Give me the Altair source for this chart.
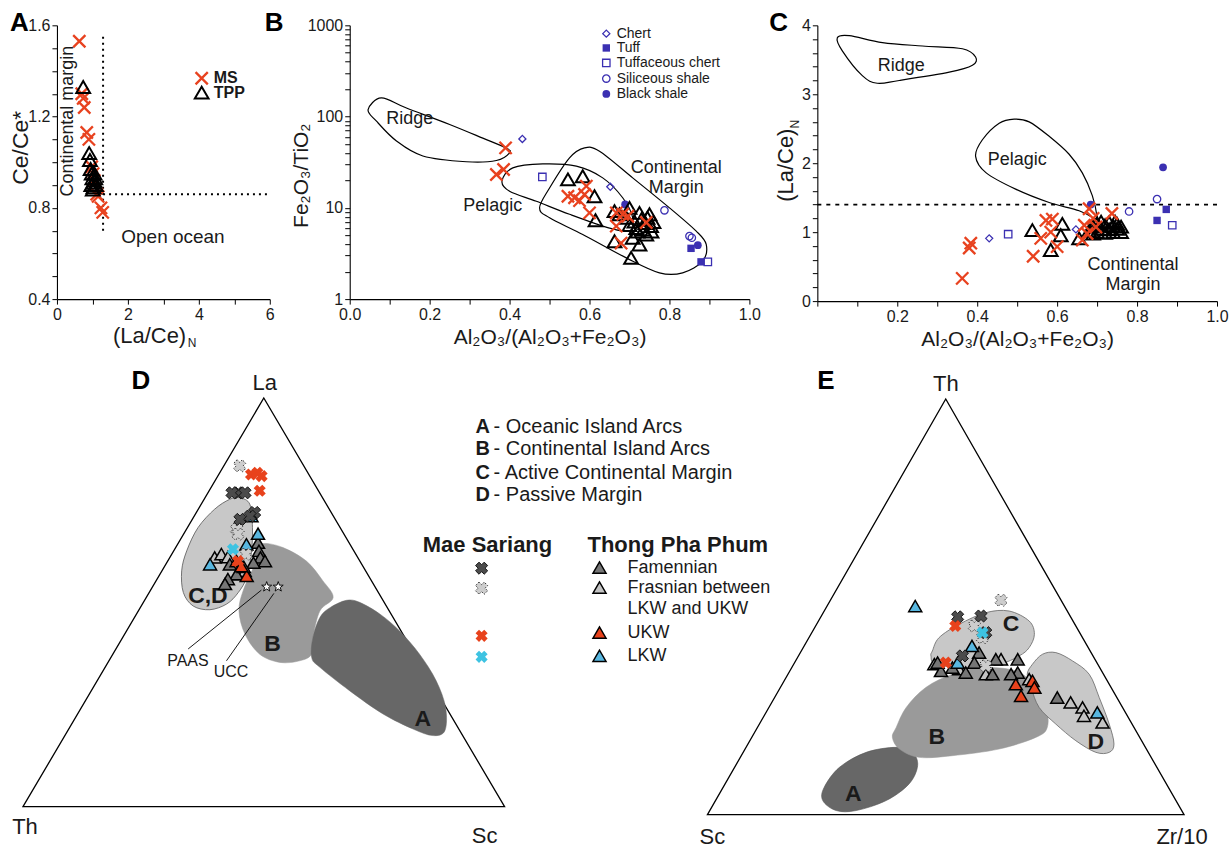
import altair as alt
import pandas as pd

FONT = "Liberation Sans"
INK = "#1a1a1a"
RED = "#e8421f"
PURPLE = "#3b30b2"
XPATH = "M-1,-1L1,1M-1,1L1,-1"
STARPATH = ("M0,-1L0.235,-0.324L0.951,-0.309L0.380,0.124L0.588,0.809L0,0.4L-0.588,0.809"
            "L-0.380,0.124L-0.951,-0.309L-0.235,-0.324Z")

# ------------------------------------------------------------------ data
# Panel A : x = (La/Ce)N , y = Ce/Ce*
A_MS_X = [0.63, 0.70, 0.74, 0.77, 0.84, 0.90, 0.98, 1.02, 1.05, 1.12, 1.16, 1.24, 1.29]
A_MS_Y = [1.53, 1.30, 1.28, 1.24, 1.13, 1.10, 0.98, 0.95, 0.92, 0.86, 0.85, 0.80, 0.78]
A_TPP_X = [0.74, 0.91, 0.93, 0.95, 0.98, 1.00, 1.02, 1.03, 1.05, 1.06, 1.08, 1.10, 0.97, 1.01]
A_TPP_Y = [1.33, 1.04, 1.01, 0.97, 0.95, 0.93, 0.91, 0.89, 0.92, 0.95, 0.93, 0.90, 0.90, 0.88]
A_BOUND_X = 1.3      # (La/Ce)N boundary
A_BOUND_Y = 0.86     # Ce/Ce* boundary
A_VLINE_Y = [0.70, 1.565]
A_HLINE_X = [1.3, 6.0]

# Panel B : x = Al2O3/(Al2O3+Fe2O3) , y = Fe2O3/TiO2 (log)
B_MS_X = [0.39, 0.385, 0.367, 0.546, 0.5625, 0.575, 0.5875, 0.592, 0.60, 0.667, 0.683, 0.696, 0.667, 0.742, 0.679]
B_MS_Y = [45.4, 26.3, 23.2, 13.4, 12.9, 12.0, 14.0, 17.3, 8.8, 8.8, 8.5, 8.1, 6.3, 6.9, 4.1]
B_TPP_X = [0.546, 0.583, 0.6125, 0.615, 0.6625, 0.6625, 0.704, 0.725, 0.70, 0.692, 0.7125, 0.675, 0.725,
           0.75, 0.754, 0.742, 0.717, 0.708, 0.73, 0.74, 0.76, 0.72, 0.735, 0.70, 0.745, 0.755]
B_TPP_Y = [20.5, 22.2, 13.4, 7.3, 9.2, 4.3, 2.83, 3.97, 10.0, 7.8, 7.1, 8.5, 8.8,
           8.5, 6.3, 5.1, 6.0, 4.7, 7.5, 6.8, 7.0, 5.5, 5.8, 6.5, 7.8, 5.5]
B_CHERT_X, B_CHERT_Y = [0.432, 0.652], [56.9, 17.0]
B_TUFF_X, B_TUFF_Y = [0.854, 0.879], [3.6, 2.56]
B_TCHERT_X, B_TCHERT_Y = [0.482, 0.896], [21.8, 2.56]
B_SSHALE_X, B_SSHALE_Y = [0.7875, 0.85, 0.856], [9.4, 4.9, 4.7]
B_BSHALE_X, B_BSHALE_Y = [0.689, 0.871], [10.9, 3.9]
B_RIDGE_X = [0.046, 0.079, 0.142, 0.25, 0.333, 0.392, 0.40, 0.367, 0.292, 0.183, 0.117, 0.067]
B_RIDGE_Y = [119, 160, 124, 82, 58, 45, 40, 33, 32, 37, 54, 89]
B_PEL_X = [0.381, 0.408, 0.483, 0.567, 0.633, 0.683, 0.708, 0.70, 0.65, 0.55, 0.467, 0.40]
B_PEL_Y = [19.6, 27.4, 30.3, 28.6, 21.3, 12.9, 7.8, 5.6, 6.0, 8.5, 11.8, 15.2]
B_CM_X = [0.475, 0.50, 0.55, 0.5875, 0.625, 0.708, 0.80, 0.867, 0.892, 0.883, 0.833, 0.775, 0.692, 0.583, 0.50]
B_CM_Y = [10.0, 16.5, 35.3, 45.4, 41.7, 21.3, 10.0, 5.55, 3.97, 2.61, 1.94, 1.94, 2.83, 5.11, 7.77]

# Panel C : x = Al2O3/(Al2O3+Fe2O3) , y = (La/Ce)N
C_MS_X = [0.3625, 0.384, 0.38, 0.54, 0.572, 0.588, 0.584, 0.559, 0.60, 0.663, 0.668, 0.68, 0.697, 0.737, 0.69, 0.675]
C_MS_Y = [0.33, 0.84, 0.77, 0.65, 1.17, 1.19, 1.00, 0.91, 0.79, 0.885, 1.10, 1.34, 1.075, 1.27, 1.20, 0.98]
C_TPP_X = [0.538, 0.613, 0.609, 0.584, 0.655, 0.68, 0.69, 0.70, 0.70, 0.71, 0.72, 0.72, 0.73, 0.73,
           0.74, 0.74, 0.75, 0.75, 0.76, 0.76, 0.71, 0.69, 0.745]
C_TPP_Y = [1.03, 1.12, 0.956, 0.74, 0.91, 1.02, 1.08, 1.00, 1.13, 1.05, 1.10, 0.99, 1.04, 1.14,
           1.00, 1.09, 1.05, 1.12, 1.00, 1.08, 1.15, 0.98, 1.15]
C_CHERT_X, C_CHERT_Y = [0.43, 0.647], [0.91, 1.04]
C_TUFF_X, C_TUFF_Y = [0.85, 0.873], [1.17, 1.33]
C_TCHERT_X, C_TCHERT_Y = [0.4775, 0.888], [0.97, 1.10]
C_SSHALE_X, C_SSHALE_Y = [0.78, 0.85], [1.30, 1.48]
C_BSHALE_X, C_BSHALE_Y = [0.865, 0.684], [1.94, 1.40]
C_BOUND_Y = 1.4
C_RIDGE_X = [0.05, 0.08, 0.163, 0.263, 0.363, 0.396, 0.388, 0.33, 0.205, 0.15, 0.1125, 0.0625]
C_RIDGE_Y = [3.82, 3.85, 3.75, 3.70, 3.66, 3.54, 3.42, 3.32, 3.20, 3.16, 3.27, 3.63]
C_PEL_X = [0.4925, 0.53, 0.58, 0.63, 0.663, 0.688, 0.70, 0.696, 0.655, 0.58, 0.4975, 0.4225, 0.396, 0.413, 0.455]
C_PEL_Y = [2.64, 2.60, 2.39, 2.13, 1.86, 1.53, 1.22, 1.19, 1.31, 1.43, 1.62, 1.86, 2.10, 2.34, 2.58]

# Panel D : La-Th-Sc ternary, pairs are (La %, Sc %), Th = remainder
D_MS_DARK = [(76.8, 6.3), (76.8, 7.7), (76.8, 5.0), (72.0, 12.1), (71.1, 11.6), (70.3, 9.9)]
D_MS_LIGHT = [(83.4, 3.3), (67.9, 10.4), (66.7, 11.3), (61.8, 15.4)]
D_MS_RED = [(81.3, 6.7), (81.7, 7.8), (80.9, 9.1), (77.3, 10.5), (60.1, 14.6)]
D_MS_CYAN = [(63.0, 12.1)]
D_FAM = [(64.6, 16.5), (62.6, 17.7), (61.0, 18.8), (60.1, 20.2), (59.3, 13.3), (56.9, 15.9),
         (55.7, 14.7), (54.5, 14.7), (59.7, 18.0), (58.7, 16.5)]
D_FRAS = [(61.0, 9.3), (61.8, 10.3), (61.1, 12.0), (56.9, 16.6), (57.7, 17.2)]
D_UKW = [(56.5, 18.2), (60.1, 14.3), (58.9, 15.9)]
D_LKW = [(71.1, 11.9), (66.8, 15.4), (64.2, 14.3), (59.3, 9.2)]
D_PAAS = (53.8, 23.7)
D_UCC = (53.8, 26.1)
D_REGION_CD = [(75.6, 7.2), (74.0, 10.1), (68.3, 13.5), (61.8, 16.5), (56.1, 18.4), (52.4, 18.5), (49.6, 17.5),
               (48.2, 14.7), (49.1, 10.8), (52.4, 7.1), (57.7, 4.1), (62.6, 2.7), (68.3, 2.2), (72.8, 3.4), (75.2, 5.3)]
D_REGION_B = [(64.4, 17.7), (63.4, 22.3), (60.1, 28.8), (55.3, 34.6), (51.2, 38.8), (47.9, 37.7), (41.4, 39.5),
              (37.3, 41.3), (35.7, 39.6), (35.3, 35.7), (37.3, 30.5), (42.2, 25.0), (47.9, 20.9), (52.8, 19.3),
              (58.5, 18.6), (62.6, 17.9)]
D_REGION_A = [(48.7, 39.4), (50.5, 41.9), (50.0, 44.9), (47.1, 50.6), (43.0, 56.7), (37.3, 63.7), (30.8, 70.4),
              (24.3, 75.6), (18.6, 78.3), (17.4, 76.4), (19.0, 71.5), (22.7, 63.4), (28.4, 53.6), (34.1, 44.6),
              (36.5, 41.7), (41.4, 39.5), (46.3, 38.5)]

# Panel E : Th-Sc-Zr/10 ternary, pairs are (Th %, Zr/10 %), Sc = remainder
E_MS_DARK = [(47.6, 28.7), (47.8, 33.5), (38.2, 34.4), (43.8, 36.5)]
E_MS_LIGHT = [(51.6, 35.8), (45.4, 33.3), (42.6, 36.4), (35.8, 40.5)]
E_MS_RED = [(45.4, 29.3), (36.6, 31.7)]
E_MS_CYAN = [(43.8, 35.8)]
E_FAM = [(39.0, 37.5), (37.4, 41.8), (37.4, 46.4), (34.2, 48.0), (34.2, 37.1), (34.6, 31.7), (33.8, 42.9),
         (36.6, 37.7), (35.4, 33.7), (33.8, 46.8), (28.2, 59.3), (36.6, 30.0)]
E_FRAS = [(36.2, 29.5), (37.4, 42.9), (33.8, 41.5), (32.6, 51.2), (27.0, 62.7), (25.8, 65.8), (23.8, 67.1),
          (22.2, 71.8), (35.0, 35.3)]
E_UKW = [(31.4, 49.0), (28.6, 51.5), (32.2, 52.1), (30.6, 53.3)]
E_LKW = [(50.2, 18.5), (40.6, 35.2), (24.6, 69.5), (36.6, 34.2)]
E_REGION_C = [(39.4, 27.5), (42.6, 27.3), (45.8, 29.9), (48.6, 34.1), (49.0, 38.8), (46.6, 44.2), (43.4, 46.9),
              (40.2, 47.4), (38.2, 46.3), (36.2, 43.1), (35.4, 36.5), (36.2, 29.8), (38.2, 27.8)]
E_REGION_B = [(21.0, 29.1), (25.8, 28.8), (30.6, 30.5), (33.8, 34.5), (35.4, 40.0), (34.6, 47.4), (31.4, 52.5),
              (25.8, 58.1), (21.0, 60.8), (18.6, 59.6), (15.8, 53.3), (14.2, 44.3), (13.8, 37.5), (15.8, 32.4),
              (18.6, 29.5)]
E_REGION_A = [(6.6, 21.2), (11.4, 22.0), (15.0, 25.8), (16.2, 31.5), (15.0, 35.5), (11.8, 38.2), (7.4, 38.6),
              (3.4, 35.8), (1.0, 30.7), (1.0, 26.5), (3.4, 22.5)]
E_REGION_D = [(36.2, 50.1), (38.6, 51.0), (39.0, 53.6), (37.0, 58.1), (33.8, 63.2), (28.2, 68.1), (21.8, 73.4),
              (17.0, 76.8), (15.0, 76.8), (15.0, 74.0), (17.8, 68.4), (21.8, 62.2), (25.8, 56.7), (30.6, 52.6),
              (33.8, 50.2)]

# ------------------------------------------------------------------ styles
FAM, FRAS, UKW, LKW = "#767676", "#c3c3c3", "#e8421c", "#58b7e0"
MS_DARK, MS_LIGHT, MS_RED, MS_CYAN = "#4b4b4b", "#cdcdcd", "#e8421c", "#3ec3e2"
PURPLE_STYLE = {
    "chert": dict(shape="diamond", filled=False, size=50, strokeWidth=1.3),
    "tuff": dict(shape="square", filled=True, size=55, strokeWidth=0),
    "tchert": dict(shape="square", filled=False, size=55, strokeWidth=1.3),
    "sshale": dict(shape="circle", filled=False, size=55, strokeWidth=1.3),
    "bshale": dict(shape="circle", filled=True, size=60, strokeWidth=0),
}


def xy(xs, ys):
    return pd.DataFrame({"x": xs, "y": ys})


def one(t="x"):
    return pd.DataFrame({"t": [t]})


def ms_layer(df, x, y):
    return alt.Chart(df).mark_point(shape=XPATH, filled=False, color=RED, size=150,
                                    strokeWidth=2.3, opacity=1).encode(x=x, y=y)


def tpp_layer(df, x, y):
    return alt.Chart(df).mark_point(shape="triangle-up", filled=False, color="black", size=190,
                                    strokeWidth=2, opacity=1).encode(x=x, y=y)


def purple_layer(df, kind, x, y):
    return alt.Chart(df).mark_point(color=PURPLE, opacity=1, **PURPLE_STYLE[kind]).encode(x=x, y=y)


def text_layer(df, x, y, **mk):
    base = dict(font=FONT, color=INK)
    base.update(mk)
    return alt.Chart(df).mark_text(**base).encode(x=x, y=y, text="t:N")


def hull_layer(xs, ys, x, y):
    df = pd.DataFrame({"x": xs, "y": ys, "i": list(range(len(xs)))})
    return alt.Chart(df).mark_line(interpolate="cardinal-closed", color="black",
                                   strokeWidth=1.2).encode(x=x, y=y, order="i:Q")


def panel_label(letter, dx):
    return alt.Chart(one(letter)).mark_text(font=FONT, fontSize=26, fontWeight="bold", color="black",
                                            align="left", baseline="alphabetic").encode(
        x=alt.value(dx), y=alt.value(6), text="t:N")


# ------------------------------------------------------------------ panel A
A_YT = [0.4, 0.5, 0.6, 0.7, 0.8, 0.9, 1.0, 1.1, 1.2, 1.3, 1.4, 1.5, 1.6]
xA = alt.X("x:Q", scale=alt.Scale(domain=[0, 6], range=[0, 213], nice=False, zero=False),
           axis=alt.Axis(values=[0, 1, 2, 3, 4, 5, 6], format="d",
                         labelExpr="datum.value % 2 == 0 ? datum.label : ''", title=None))
yA = alt.Y("y:Q", scale=alt.Scale(domain=[0.4, 1.6], nice=False, zero=False),
           axis=alt.Axis(values=A_YT, format=".1f",
                         labelExpr="round(datum.value * 10) % 4 == 0 ? datum.label : ''",
                         title="Ce/Ce*", titleX=-36, titleY=122, titleAngle=270,
                         titleAlign="center", titleBaseline="middle", titleFontSize=23))

dotted = dict(color="black", strokeWidth=2, strokeDash=[2, 4])
chartA = alt.layer(
    alt.Chart(pd.DataFrame({"x": [A_BOUND_X], "y": [A_VLINE_Y[0]], "y2": [A_VLINE_Y[1]]}))
    .mark_rule(**dotted).encode(x=xA, y=yA, y2="y2:Q"),
    alt.Chart(pd.DataFrame({"x": [A_HLINE_X[0]], "x2": [A_HLINE_X[1]], "y": [A_BOUND_Y]}))
    .mark_rule(**dotted).encode(x=xA, x2="x2:Q", y=yA),
    ms_layer(xy(A_MS_X, A_MS_Y), xA, yA),
    tpp_layer(xy(A_TPP_X, A_TPP_Y), xA, yA),
    text_layer(pd.DataFrame({"x": [0.31], "y": [1.18], "t": ["Continental margin"]}), xA, yA,
               fontSize=18, angle=270, align="center", baseline="middle"),
    text_layer(pd.DataFrame({"x": [3.27], "y": [0.67], "t": ["Open ocean"]}), xA, yA,
               fontSize=19, align="center", baseline="middle"),
    ms_layer(xy([4.08], [1.368]), xA, yA),
    tpp_layer(xy([4.08], [1.305]), xA, yA),
    text_layer(pd.DataFrame({"x": [4.42, 4.42], "y": [1.370, 1.303], "t": ["MS", "TPP"]}), xA, yA,
               fontSize=16, fontWeight="bold", align="left", baseline="middle"),
    alt.Chart(one("(La/Ce)")).mark_text(font=FONT, fontSize=22, color=INK, align="left", baseline="middle")
    .encode(x=alt.value(56), y=alt.value(311), text="t:N"),
    alt.Chart(one("N")).mark_text(font=FONT, fontSize=12, color=INK, align="left", baseline="middle")
    .encode(x=alt.value(131), y=alt.value(318), text="t:N"),
    panel_label("A", -47),
).properties(width=225, height=274)

# ------------------------------------------------------------------ panel B
T01 = [0.0, 0.1, 0.2, 0.3, 0.4, 0.5, 0.6, 0.7, 0.8, 0.9, 1.0]
LOGT = [1, 2, 3, 4, 5, 6, 7, 8, 9, 10, 20, 30, 40, 50, 60, 70, 80, 90,
        100, 200, 300, 400, 500, 600, 700, 800, 900, 1000]
AL_TITLE = "Al\u2082O\u2083/(Al\u2082O\u2083+Fe\u2082O\u2083)"
xB = alt.X("x:Q", scale=alt.Scale(domain=[0, 1], nice=False, zero=False),
           axis=alt.Axis(values=T01, format=".1f", title=AL_TITLE,
                         labelExpr="round(datum.value * 10) % 2 == 0 ? datum.label : ''"))
yB = alt.Y("y:Q", scale=alt.Scale(type="log", domain=[1, 1000], nice=False),
           axis=alt.Axis(values=LOGT, format="d", title="Fe\u2082O\u2083/TiO\u2082",
                         labelExpr="(datum.value == 1 || datum.value == 10 || datum.value == 100 || datum.value == 1000) ? datum.label : ''",
                         titleX=-48, titleY=150, titleAngle=270, titleAlign="center", titleBaseline="middle"))

B_LEG_Y = [811, 565, 387, 261, 177]
chartB = alt.layer(
    hull_layer(B_RIDGE_X, B_RIDGE_Y, xB, yB),
    hull_layer(B_PEL_X, B_PEL_Y, xB, yB),
    hull_layer(B_CM_X, B_CM_Y, xB, yB),
    purple_layer(xy(B_CHERT_X, B_CHERT_Y), "chert", xB, yB),
    purple_layer(xy(B_TUFF_X, B_TUFF_Y), "tuff", xB, yB),
    purple_layer(xy(B_TCHERT_X, B_TCHERT_Y), "tchert", xB, yB),
    purple_layer(xy(B_SSHALE_X, B_SSHALE_Y), "sshale", xB, yB),
    purple_layer(xy(B_BSHALE_X, B_BSHALE_Y), "bshale", xB, yB),
    tpp_layer(xy(B_TPP_X, B_TPP_Y), xB, yB),
    ms_layer(xy(B_MS_X, B_MS_Y), xB, yB),
    text_layer(pd.DataFrame({"x": [0.15, 0.358, 0.817, 0.817], "y": [95, 10.4, 27.4, 16.3],
                             "t": ["Ridge", "Pelagic", "Continental", "Margin"]}), xB, yB,
               fontSize=18, align="center", baseline="middle"),
    purple_layer(xy([0.642], [B_LEG_Y[0]]), "chert", xB, yB),
    purple_layer(xy([0.642], [B_LEG_Y[1]]), "tuff", xB, yB),
    purple_layer(xy([0.642], [B_LEG_Y[2]]), "tchert", xB, yB),
    purple_layer(xy([0.642], [B_LEG_Y[3]]), "sshale", xB, yB),
    purple_layer(xy([0.642], [B_LEG_Y[4]]), "bshale", xB, yB),
    text_layer(pd.DataFrame({"x": [0.668] * 5, "y": B_LEG_Y,
                             "t": ["Chert", "Tuff", "Tuffaceous chert", "Siliceous shale", "Black shale"]}),
               xB, yB, fontSize=14, align="left", baseline="middle"),
    panel_label("B", -85),
).properties(width=400, height=274)

# ------------------------------------------------------------------ panel C
C_YT = [0.0, 0.2, 0.4, 0.6, 0.8, 1.0, 1.2, 1.4, 1.6, 1.8, 2.0, 2.2, 2.4, 2.6, 2.8,
        3.0, 3.2, 3.4, 3.6, 3.8, 4.0]
xC = alt.X("x:Q", scale=alt.Scale(domain=[0, 1], nice=False, zero=False),
           axis=alt.Axis(values=T01, format=".1f", title=AL_TITLE,
                         labelExpr="(datum.value > 0.05 && round(datum.value * 10) % 2 == 0) ? datum.label : ''"))
yC = alt.Y("y:Q", scale=alt.Scale(domain=[0, 4], nice=False, zero=False),
           axis=alt.Axis(values=C_YT, format=".1f", title=None,
                         labelExpr="round(datum.value * 10) % 10 == 0 ? '' + round(datum.value) : ''"))

chartC = alt.layer(
    alt.Chart(pd.DataFrame({"x": [0.0], "x2": [1.0], "y": [C_BOUND_Y]}))
    .mark_rule(color="black", strokeWidth=1.8, strokeDash=[4, 5]).encode(x=xC, x2="x2:Q", y=yC),
    hull_layer(C_RIDGE_X, C_RIDGE_Y, xC, yC),
    hull_layer(C_PEL_X, C_PEL_Y, xC, yC),
    purple_layer(xy(C_CHERT_X, C_CHERT_Y), "chert", xC, yC),
    purple_layer(xy(C_TUFF_X, C_TUFF_Y), "tuff", xC, yC),
    purple_layer(xy(C_TCHERT_X, C_TCHERT_Y), "tchert", xC, yC),
    purple_layer(xy(C_SSHALE_X, C_SSHALE_Y), "sshale", xC, yC),
    purple_layer(xy(C_BSHALE_X, C_BSHALE_Y), "bshale", xC, yC),
    tpp_layer(xy(C_TPP_X, C_TPP_Y), xC, yC),
    ms_layer(xy(C_MS_X, C_MS_Y), xC, yC),
    text_layer(pd.DataFrame({"x": [0.21, 0.50, 0.79, 0.79], "y": [3.41, 2.05, 0.53, 0.23],
                             "t": ["Ridge", "Pelagic", "Continental", "Margin"]}), xC, yC,
               fontSize=18, align="center", baseline="middle"),
    alt.Chart(one("(La/Ce)")).mark_text(font=FONT, fontSize=22, color=INK, align="center",
                                        baseline="middle", angle=270)
    .encode(x=alt.value(-31), y=alt.value(140), text="t:N"),
    alt.Chart(one("N")).mark_text(font=FONT, fontSize=12, color=INK, align="center",
                                  baseline="middle", angle=270)
    .encode(x=alt.value(-22), y=alt.value(99), text="t:N"),
    panel_label("C", -48),
).properties(width=400, height=276)

# ------------------------------------------------------------------ panels D & E
# shared frame units: D triangle has base 1 (x) and height 1 (y); E triangle sits to its right.
E_X0, E_S, E_Y0, E_H = 1.4212, 0.9896, -0.0196, 1.0171


def dpos(pairs):
    return pd.DataFrame({"X": [(sc + la / 2) / 100 for la, sc in pairs],
                         "Y": [la / 100 for la, sc in pairs]})


def epos(pairs):
    return pd.DataFrame({"X": [E_X0 + E_S * (zr + th / 2) / 100 for th, zr in pairs],
                         "Y": [E_Y0 + E_H * th / 100 for th, zr in pairs]})


def frame_x(lo, hi):
    return alt.X("X:Q", scale=alt.Scale(domain=[lo, hi], nice=False, zero=False), axis=None)


yT = alt.Y("Y:Q", scale=alt.Scale(domain=[-0.107579, 1.066015], nice=False, zero=False), axis=None)
xD = frame_x(0.070539, 0.537344)     # column under panel A
xL = frame_x(0.678423, 1.508299)     # column under panel B (legend)
xE = frame_x(1.649378, 2.479253)     # column under panel C


def region(df, xe, fill, stroke, sw):
    df = df.assign(i=list(range(len(df))))
    return alt.Chart(df).mark_line(interpolate="cardinal-closed", fill=fill, stroke=stroke,
                                   strokeWidth=sw).encode(x=xe, y=yT, order="i:Q")


def outline(df, xe):
    df = df.assign(i=list(range(len(df))))
    return alt.Chart(df).mark_line(interpolate="linear-closed", color="black",
                                   strokeWidth=1.3).encode(x=xe, y=yT, order="i:Q")


def tri(df, xe, fill):
    return alt.Chart(df).mark_point(shape="triangle-up", filled=True, fill=fill, stroke="black",
                                    strokeWidth=1.5, size=170, opacity=1).encode(x=xe, y=yT)


def cross(df, xe, fill, stroke=None, dash=None):
    mk = dict(shape="cross", angle=45, filled=True, fill=fill, size=150, opacity=1)
    if stroke:
        mk.update(stroke=stroke, strokeWidth=0.9)
    else:
        mk.update(strokeWidth=0)
    if dash:
        mk.update(strokeDash=dash)
    return alt.Chart(df).mark_point(**mk).encode(x=xe, y=yT)


def with_text(df, labels):
    return df.assign(t=labels)


TRI = [(0, 0), (0, 100), (100, 0)]
lead_start = dpos([(53.0, 23.0), (52.2, 26.0)])
lead_end = dpos([(38.6, 15.0), (35.7, 24.4)])
leaders = pd.DataFrame({"X": lead_start["X"], "Y": lead_start["Y"],
                        "X2": lead_end["X"], "Y2": lead_end["Y"]})

chartD = alt.layer(
    outline(dpos(TRI), xD),
    region(dpos(D_REGION_B), xD, "#9a9a9a", "#9a9a9a", 0.5),
    region(dpos(D_REGION_A), xD, "#676767", "#676767", 0.5),
    region(dpos(D_REGION_CD), xD, "#c8c8c8", "#555555", 0.8),
    alt.Chart(leaders).mark_rule(color="black", strokeWidth=0.9).encode(x=xD, y=yT, x2="X2:Q", y2="Y2:Q"),
    alt.Chart(dpos([D_PAAS, D_UCC])).mark_point(shape=STARPATH, filled=True, fill="white", stroke="black",
                                               strokeWidth=0.9, size=110, opacity=1).encode(x=xD, y=yT),
    text_layer(with_text(dpos([(35.7, 16.4), (33.0, 26.7)]), ["PAAS", "UCC"]), xD, yT,
               fontSize=16, align="center", baseline="middle"),
    text_layer(with_text(dpos([(51.6, 12.6), (39.8, 31.9), (21.4, 72.3)]), ["C,D", "B", "A"]), xD, yT,
               fontSize=23, fontWeight="bold", align="center", baseline="middle"),
    tri(dpos(D_FRAS), xD, FRAS), tri(dpos(D_FAM), xD, FAM), tri(dpos(D_UKW), xD, UKW), tri(dpos(D_LKW), xD, LKW),
    cross(dpos(D_MS_LIGHT), xD, MS_LIGHT, "#222222", [1.5, 1.5]),
    cross(dpos(D_MS_DARK), xD, MS_DARK, "#111111"),
    cross(dpos(D_MS_RED), xD, MS_RED), cross(dpos(D_MS_CYAN), xD, MS_CYAN),
    text_layer(pd.DataFrame({"X": [0.5021, 0.0041, 0.9585], "Y": [1.0374, -0.0506, -0.0709],
                             "t": ["La", "Th", "Sc"]}), xD, yT,
               fontSize=22, align="center", baseline="middle"),
    text_layer(pd.DataFrame({"X": [0.2448], "Y": [1.0416], "t": ["D"]}), xD, yT,
               fontSize=26, fontWeight="bold", align="center", baseline="middle", color="black"),
).properties(width=225, height=480)

chartE = alt.layer(
    outline(epos(TRI), xE),
    region(epos(E_REGION_A), xE, "#676767", "#555555", 0.6),
    region(epos(E_REGION_B), xE, "#9a9a9a", "#9a9a9a", 0.5),
    region(epos(E_REGION_D), xE, "#c8c8c8", "#666666", 0.8),
    region(epos(E_REGION_C), xE, "#c8c8c8", "#666666", 0.8),
    text_layer(with_text(epos([(45.8, 40.8), (18.6, 38.8), (5.0, 28.1), (17.6, 72.7)]), ["C", "B", "A", "D"]),
               xE, yT, fontSize=23, fontWeight="bold", align="center", baseline="middle"),
    tri(epos(E_FRAS), xE, FRAS), tri(epos(E_FAM), xE, FAM), tri(epos(E_UKW), xE, UKW), tri(epos(E_LKW), xE, LKW),
    cross(epos(E_MS_LIGHT), xE, MS_LIGHT, "#222222", [1.5, 1.5]),
    cross(epos(E_MS_DARK), xE, MS_DARK, "#111111"),
    cross(epos(E_MS_RED), xE, MS_RED), cross(epos(E_MS_CYAN), xE, MS_CYAN),
    text_layer(pd.DataFrame({"X": [1.9164, 1.4315, 2.4066], "Y": [1.0335, -0.0751, -0.0751],
                             "t": ["Th", "Sc", "Zr/10"]}), xE, yT,
               fontSize=22, align="center", baseline="middle"),
    text_layer(pd.DataFrame({"X": [1.6674], "Y": [1.0416], "t": ["E"]}), xE, yT,
               fontSize=26, fontWeight="bold", align="center", baseline="middle", color="black"),
).properties(width=400, height=480)

# legend (frame units)
LEG_ROWS_Y = [0.9291, 0.8746, 0.8174, 0.7621]
MS_LEG_Y = [0.5836, 0.5347, 0.4181, 0.3667]
TPP_LEG_Y = [0.5851, 0.5362, 0.4262, 0.3692]
chartL = alt.layer(
    text_layer(pd.DataFrame({"X": [0.9398] * 4, "Y": LEG_ROWS_Y, "t": ["A", "B", "C", "D"]}), xL, yT,
               fontSize=20, fontWeight="bold", align="left", baseline="middle"),
    text_layer(pd.DataFrame({"X": [0.9772] * 4, "Y": LEG_ROWS_Y,
                             "t": ["- Oceanic Island Arcs", "- Continental Island Arcs",
                                   "- Active Continental Margin", "- Passive Margin"]}), xL, yT,
               fontSize=20, align="left", baseline="middle"),
    text_layer(pd.DataFrame({"X": [0.9645], "Y": [0.6406], "t": ["Mae Sariang"]}), xL, yT,
               fontSize=22, fontWeight="bold", align="center", baseline="middle"),
    text_layer(pd.DataFrame({"X": [1.1722], "Y": [0.6406], "t": ["Thong Pha Phum"]}), xL, yT,
               fontSize=22, fontWeight="bold", align="left", baseline="middle"),
    cross(pd.DataFrame({"X": [0.9523], "Y": [MS_LEG_Y[0]]}), xL, MS_DARK, "#111111"),
    cross(pd.DataFrame({"X": [0.9523], "Y": [MS_LEG_Y[1]]}), xL, MS_LIGHT, "#222222", [1.5, 1.5]),
    cross(pd.DataFrame({"X": [0.9523], "Y": [MS_LEG_Y[2]]}), xL, MS_RED),
    cross(pd.DataFrame({"X": [0.9523], "Y": [MS_LEG_Y[3]]}), xL, MS_CYAN),
    tri(pd.DataFrame({"X": [1.1971], "Y": [TPP_LEG_Y[0]]}), xL, FAM),
    tri(pd.DataFrame({"X": [1.1971], "Y": [TPP_LEG_Y[1]]}), xL, FRAS),
    tri(pd.DataFrame({"X": [1.1971], "Y": [TPP_LEG_Y[2]]}), xL, UKW),
    tri(pd.DataFrame({"X": [1.1971], "Y": [TPP_LEG_Y[3]]}), xL, LKW),
    text_layer(pd.DataFrame({"X": [1.2552] * 5, "Y": [0.5844, 0.5355, 0.4841, 0.4254, 0.3692],
                             "t": ["Famennian", "Frasnian between", "LKW and UKW", "UKW", "LKW"]}), xL, yT,
               fontSize=18, align="left", baseline="middle"),
).properties(width=400, height=480)

chart = alt.concat(
    chartA, chartB, chartC, chartD, chartL, chartE,
    columns=3, bounds="flush", align="each", spacing={"row": 70, "column": 68},
).properties(
    padding={"left": 10, "top": 10, "right": 0, "bottom": 0}
).configure_axis(
    labelFont=FONT, labelFontSize=16, labelColor=INK, labelPadding=2, labelFlush=False,
    labelOverlap=False, titleFont=FONT, titleFontSize=21, titleFontWeight="normal",
    titleColor=INK, titlePadding=4, domainColor="black", domainWidth=1.1,
    tickColor="black", tickSize=5, tickWidth=1, grid=False,
).configure_view(stroke=None)

chart.save("out.html", embed_options={"renderer": "svg", "actions": False})
